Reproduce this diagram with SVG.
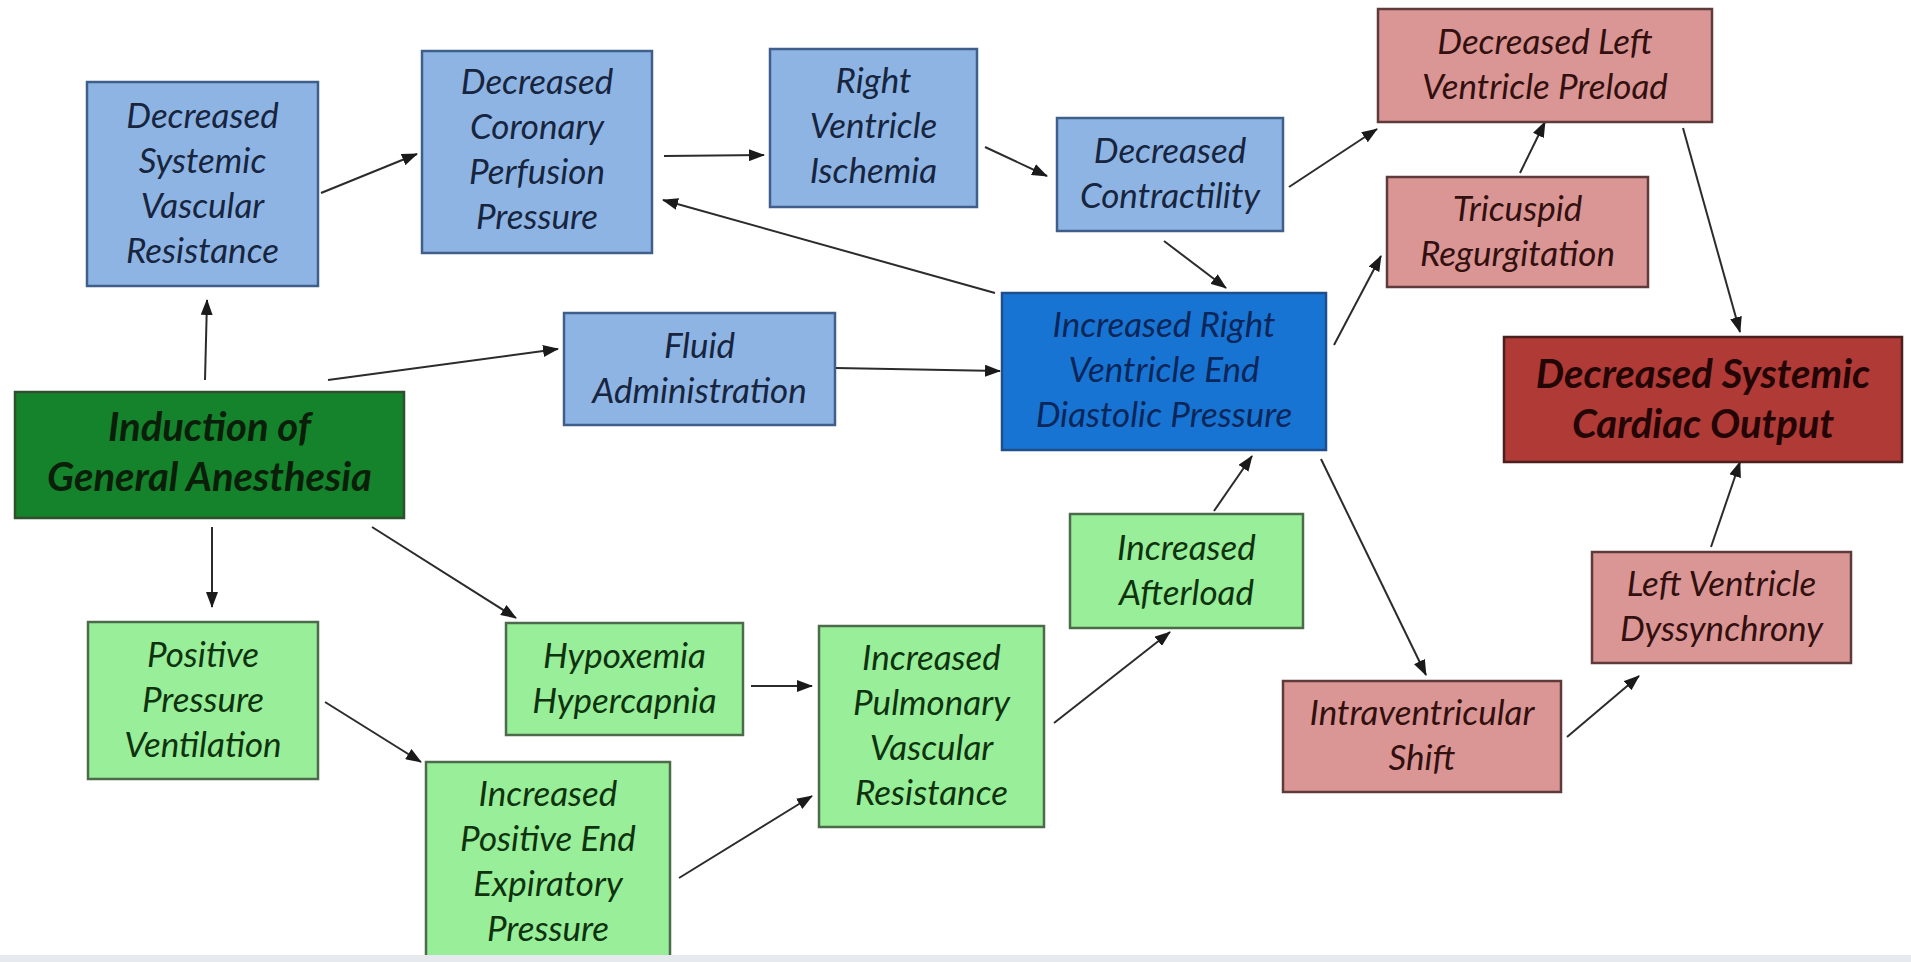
<svg xmlns="http://www.w3.org/2000/svg" width="1911" height="962" viewBox="0 0 1911 962">
<style>
.box{stroke-width:2.5}
.lb{fill:#8EB4E3;stroke:#3F5F8A}
.ib{fill:#1874D2;stroke:#1E4E8C}
.g{fill:#14832B;stroke:#2F4F2F}
.lg{fill:#99EE99;stroke:#4B6B4B}
.p{fill:#DA9694;stroke:#5E3B3A}
.dr{fill:#B03A36;stroke:#4A1F1E}
text{font-family:Lato,"Liberation Sans",sans-serif;font-style:italic;font-size:35px;text-anchor:middle}
.tlb{fill:#17253F}
.tib{fill:#0B2659}
.tg{fill:#0A1E0A;font-weight:bold;font-size:40px}
.tlg{fill:#0F330F}
.tp{fill:#331010}
.tdr{fill:#240505;font-weight:bold;font-size:40px}
#connectors line{stroke:#2B2B2B;stroke-width:2;marker-end:url(#arr)}
</style>
<defs>
<marker id="arr" markerUnits="userSpaceOnUse" markerWidth="16" markerHeight="12" refX="15" refY="6" orient="auto">
<path d="M0,0 L16,6 L0,12 z" fill="#1A1A1A"/>
</marker>
</defs>
<rect width="1911" height="962" fill="#FFFFFF"/>

<g id="connectors">
<line x1="205" y1="380" x2="207" y2="300"/>
<line x1="328" y1="380" x2="558" y2="349"/>
<line x1="321" y1="193" x2="417" y2="154"/>
<line x1="664" y1="156" x2="764" y2="155"/>
<line x1="985" y1="147" x2="1047" y2="176"/>
<line x1="995" y1="293" x2="663" y2="200"/>
<line x1="1164" y1="241" x2="1226" y2="288"/>
<line x1="836" y1="368" x2="1000" y2="371"/>
<line x1="1289" y1="187" x2="1377" y2="129"/>
<line x1="1334" y1="345" x2="1381" y2="256"/>
<line x1="1520" y1="173" x2="1545" y2="122"/>
<line x1="1683" y1="128" x2="1740" y2="332"/>
<line x1="212" y1="527" x2="212" y2="607"/>
<line x1="372" y1="527" x2="516" y2="618"/>
<line x1="325" y1="702" x2="421" y2="762"/>
<line x1="751" y1="686" x2="812" y2="686"/>
<line x1="679" y1="878" x2="812" y2="796"/>
<line x1="1054" y1="723" x2="1170" y2="632"/>
<line x1="1214" y1="511" x2="1252" y2="456"/>
<line x1="1321" y1="459" x2="1426" y2="675"/>
<line x1="1567" y1="737" x2="1639" y2="676"/>
<line x1="1711" y1="547" x2="1740" y2="462"/>
</g>

<g id="n-dsvr">
<rect class="box lb" x="87" y="82" width="231" height="204"/>
<text class="tlb" x="202.5" y="128">Decreased</text>
<text class="tlb" x="202.5" y="173">Systemic</text>
<text class="tlb" x="202.5" y="218">Vascular</text>
<text class="tlb" x="202.5" y="263">Resistance</text>
</g>

<g id="n-dcpp">
<rect class="box lb" x="422" y="51" width="230" height="202"/>
<text class="tlb" x="537" y="94">Decreased</text>
<text class="tlb" x="537" y="139">Coronary</text>
<text class="tlb" x="537" y="184">Perfusion</text>
<text class="tlb" x="537" y="229">Pressure</text>
</g>

<g id="n-rvi">
<rect class="box lb" x="770" y="49" width="207" height="158"/>
<text class="tlb" x="873.5" y="93">Right</text>
<text class="tlb" x="873.5" y="138">Ventricle</text>
<text class="tlb" x="873.5" y="183">Ischemia</text>
</g>

<g id="n-dc">
<rect class="box lb" x="1057" y="118" width="226" height="113"/>
<text class="tlb" x="1170" y="163">Decreased</text>
<text class="tlb" x="1170" y="208">Contractility</text>
</g>

<g id="n-dlvp">
<rect class="box p" x="1378" y="9" width="334" height="113"/>
<text class="tp" x="1545" y="54">Decreased Left</text>
<text class="tp" x="1545" y="99">Ventricle Preload</text>
</g>

<g id="n-tr">
<rect class="box p" x="1387" y="177" width="261" height="110"/>
<text class="tp" x="1517.5" y="221">Tricuspid</text>
<text class="tp" x="1517.5" y="266">Regurgitation</text>
</g>

<g id="n-dsco">
<rect class="box dr" x="1504" y="337" width="398" height="125"/>
<text class="tdr" x="1703" y="388">Decreased Systemic</text>
<text class="tdr" x="1703" y="438">Cardiac Output</text>
</g>

<g id="n-fa">
<rect class="box lb" x="564" y="313" width="271" height="112"/>
<text class="tlb" x="699.5" y="358">Fluid</text>
<text class="tlb" x="699.5" y="403">Administration</text>
</g>

<g id="n-irvedp">
<rect class="box ib" x="1002" y="293" width="324" height="157"/>
<text class="tib" x="1164" y="337">Increased Right</text>
<text class="tib" x="1164" y="382">Ventricle End</text>
<text class="tib" x="1164" y="427">Diastolic Pressure</text>
</g>

<g id="n-iga">
<rect class="box g" x="15" y="392" width="389" height="126"/>
<text class="tg" x="209.5" y="441">Induction of</text>
<text class="tg" x="209.5" y="491">General Anesthesia</text>
</g>

<g id="n-ppv">
<rect class="box lg" x="88" y="622" width="230" height="157"/>
<text class="tlg" x="203" y="667">Positive</text>
<text class="tlg" x="203" y="712">Pressure</text>
<text class="tlg" x="203" y="757">Ventilation</text>
</g>

<g id="n-hh">
<rect class="box lg" x="506" y="623" width="237" height="112"/>
<text class="tlg" x="624.5" y="668">Hypoxemia</text>
<text class="tlg" x="624.5" y="713">Hypercapnia</text>
</g>

<g id="n-ipeep">
<rect class="box lg" x="426" y="762" width="244" height="197"/>
<text class="tlg" x="548" y="806">Increased</text>
<text class="tlg" x="548" y="851">Positive End</text>
<text class="tlg" x="548" y="896">Expiratory</text>
<text class="tlg" x="548" y="941">Pressure</text>
</g>

<g id="n-ipvr">
<rect class="box lg" x="819" y="626" width="225" height="201"/>
<text class="tlg" x="931.5" y="670">Increased</text>
<text class="tlg" x="931.5" y="715">Pulmonary</text>
<text class="tlg" x="931.5" y="760">Vascular</text>
<text class="tlg" x="931.5" y="805">Resistance</text>
</g>

<g id="n-ia">
<rect class="box lg" x="1070" y="514" width="233" height="114"/>
<text class="tlg" x="1186.5" y="560">Increased</text>
<text class="tlg" x="1186.5" y="605">Afterload</text>
</g>

<g id="n-ivs">
<rect class="box p" x="1283" y="681" width="278" height="111"/>
<text class="tp" x="1422" y="725">Intraventricular</text>
<text class="tp" x="1422" y="770">Shift</text>
</g>

<g id="n-lvd">
<rect class="box p" x="1592" y="552" width="259" height="111"/>
<text class="tp" x="1721.5" y="596">Left Ventricle</text>
<text class="tp" x="1721.5" y="641">Dyssynchrony</text>
</g>

<rect x="0" y="955" width="1911" height="7" fill="#E6EAEE"/>
</svg>
